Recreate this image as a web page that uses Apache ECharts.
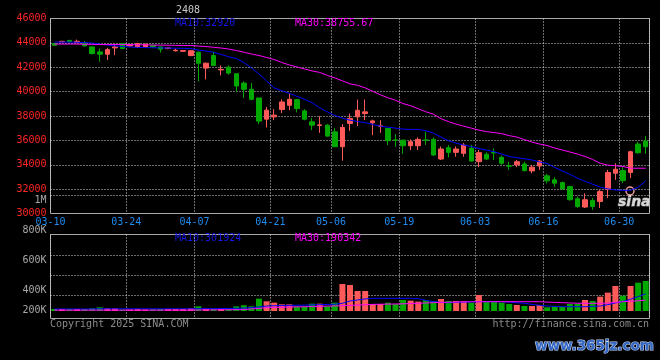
<!DOCTYPE html>
<html>
<head>
<meta charset="utf-8">
<script src="https://cdn.jsdelivr.net/npm/echarts@6/dist/echarts.min.js"></script>
<style>html,body{margin:0;padding:0;background:#000;}#c{width:660px;height:360px;}</style>
</head>
<body>
<div id="c"></div>
<script>
const categories = ['03-10','03-11','03-12','03-13','03-14','03-17','03-18','03-19','03-20','03-21','03-24','03-25','03-26','03-27','03-28','03-31',
'04-01','04-02','04-03','04-07','04-08','04-09','04-10','04-11','04-14','04-15','04-16','04-17','04-18','04-21','04-22','04-23','04-24','04-25','04-28','04-29','04-30',
'05-06','05-07','05-08','05-09','05-12','05-13','05-14','05-15','05-16','05-19','05-20','05-21','05-22','05-23','05-26','05-27','05-28','05-29','05-30',
'06-03','06-04','06-05','06-06','06-09','06-10','06-11','06-12','06-13','06-16','06-17','06-18','06-19','06-20','06-23','06-24','06-25','06-26','06-27','06-30',
'07-01','07-02','07-03'];
const shownDates = ['03-10','03-24','04-07','04-21','05-06','05-19','06-03','06-16','06-30'];
const priceMin = 30000, priceMax = 46000, priceStep = 2000;
const volTickLabels = ['200K','','400K','','','600K','','','800K','','','1M'];

const openP = [43940,44080,44200,44020,44020,43670,43260,43070,43590,43940,43750,43670,43670,43800,43670,43530,43350,43310,42960,43230,41930,42960,41780,42010,41470,40700,40190,39480,37740,37930,38530,38880,39340,38420,37520,37230,37250,36700,35480,37390,37930,38200,37440,37150,36980,36040,36020,35560,35560,36040,36080,34470,35400,35020,34940,35350,34250,34860,35010,34610,33920,33990,34060,33490,33900,33090,32760,32540,32210,31210,30530,31070,30990,32000,33300,33520,33360,35700,35940];
const closeP = [43800,44130,44080,44130,43750,43130,43070,43450,43670,43530,43860,43940,43890,43670,43480,43590,43400,43370,43360,42330,42330,42150,41820,41520,40460,40190,39370,37580,38480,38070,39150,39370,38610,37740,37250,37270,36350,35480,37060,37800,38470,38340,37600,37190,35970,36000,35560,35890,36080,36000,34800,35290,35020,35290,35620,34310,34990,34470,34970,34120,33880,34250,33520,33800,34310,32680,32490,32030,31130,30580,31130,30580,31800,33360,33630,32700,35070,34990,35480];
const lowP = [43780,44050,44050,44000,43750,43050,42450,42600,43000,43500,43700,43600,43650,43600,43200,43480,43300,43250,42900,40840,41000,42100,41330,41390,39970,39480,39290,37330,37060,37660,38230,38470,38300,37650,36840,36620,36300,35480,34330,36780,37170,37660,36430,36620,35620,35480,34890,35210,35210,35620,34720,34390,34600,34660,34660,34250,33800,34390,34390,33990,33580,33800,33440,33300,33580,32460,32200,31950,31070,30450,30450,30310,30450,31270,32760,32490,32900,34900,34900];
const highP = [44000,44150,44250,44270,44150,43700,43530,43600,43950,44000,43900,44000,43920,43850,43700,43620,43540,43420,43420,43300,42390,43290,42150,42150,41470,40840,40700,39480,38740,38560,39370,39840,39400,38560,37840,37980,37330,37030,37330,38200,39350,39350,37700,37660,36980,36510,36020,36080,36240,36700,36240,35500,35620,35500,35780,35620,35210,35020,35350,34750,34250,34390,34250,33990,34390,33250,32980,32620,32270,31400,31670,31270,31940,33580,34120,33800,35150,35900,36350];
const ma10 = [44065,44065,44065,44049,44024,43984,43902,43820,43755,43698,43657,43633,43616,43600,43592,43576,43559,43551,43535,43412,43331,43233,43045,42857,42718,42392,41943,41453,40882,40310,40065,39861,39616,39371,39086,38678,38335,38041,37820,37657,37551,37453,37306,37168,37086,37004,36923,36898,36898,36800,36596,36270,35968,35780,35617,35494,35331,35208,35070,34882,34678,34580,34490,34392,34229,34106,33780,33494,33209,32898,32637,32408,32163,32025,31927,31902,31902,32147,32678];
const ma30 = [43902,43902,43902,43902,43886,43878,43861,43861,43861,43861,43861,43845,43837,43820,43820,43804,43796,43780,43780,43739,43698,43641,43576,43494,43371,43233,43086,42963,42800,42637,42392,42188,42024,41861,41698,41576,41331,41127,40882,40637,40518,40310,40024,39739,39494,39290,39020,38841,38596,38351,38147,37780,37535,37331,37168,37004,36841,36719,36637,36555,36392,36270,36066,35862,35698,35576,35372,35208,35045,34882,34678,34433,34123,33968,33919,33861,33715,33715,33715];
const volume = [35000,35000,35000,35000,35000,47000,64000,47000,47000,26000,26000,35000,26000,30000,35000,35000,35000,35000,47000,
81000,41000,41000,41000,41000,81000,99000,81000,215000,169000,145000,116000,116000,81000,81000,128000,128000,81000,145000,
470000,453000,349000,349000,122000,122000,145000,122000,192000,180000,163000,192000,174000,209000,174000,174000,174000,145000,279000,174000,174000,145000,122000,105000,87000,87000,105000,64000,87000,76000,122000,122000,192000,174000,250000,320000,436000,267000,436000,494000,523000];
const volMa10 = [35000,35000,35000,35000,35000,35000,38000,38000,38000,38000,38000,38000,38000,38000,38000,38000,38000,38000,38000,
40000,40000,40000,42000,44000,47000,52000,58000,72000,87000,92000,96000,98000,100000,103000,106000,110000,114000,118000,134000,
174000,192000,210000,221000,221000,221000,221000,221000,221000,215000,185000,165000,150000,145000,150000,155000,160000,162000,162000,162000,
162000,155000,145000,134000,115000,100000,87000,80000,75000,75000,75000,75000,80000,87000,110000,140000,165000,205000,250000,300000];
const volMa30 = [15000,15000,15000,15000,15000,15000,15000,15000,15000,15000,15000,15000,15000,15000,15000,15000,15000,15000,15000,
18000,19000,20000,21000,22000,23000,25000,35000,45000,58000,62000,66000,70000,72000,74000,76000,80000,85000,88000,92000,
98000,103000,108000,115000,118000,120000,122000,125000,130000,135000,140000,145000,150000,153000,156000,159000,161000,162000,162000,162000,
162000,162000,162000,162000,162000,162000,155000,150000,145000,140000,135000,134000,134000,134000,138000,150000,162000,170000,178000,190000];

const UP = '#ff5a5a', DOWN = '#00a800';
const FONT = 'DejaVu Sans Mono';
const GRIDC = '#d8d8d8';
const DOTS = [1, 2];
const plotLeft = 50.5, plotWidth = 599;
const bandW = plotWidth / categories.length;
const showDateIdx = (i) => shownDates.indexOf(categories[i]) >= 0;

const chart = echarts.init(document.getElementById('c'), null, {renderer: 'canvas'});
const kData = categories.map((_, i) => [openP[i], closeP[i], lowP[i], highP[i]]);
const volData = volume.map((v, i) => ({value: v, itemStyle: {color: closeP[i] >= openP[i] ? UP : DOWN}}));

const txt = (x, y, text, color, align) => ({
  type: 'text', x: x, y: y, silent: true,
  style: {text: text, fill: color, font: '10px "' + FONT + '"', textAlign: align || 'left', textVerticalAlign: 'middle'}
});

chart.setOption({
  animation: false,
  backgroundColor: '#000',
  grid: [
    {left: plotLeft, width: plotWidth, top: 18.5, height: 195, show: true, borderColor: '#a8a8a8', borderWidth: 1, backgroundColor: 'transparent'},
    {left: plotLeft, width: plotWidth, top: 234.5, height: 84, show: true, borderColor: '#a8a8a8', borderWidth: 1, backgroundColor: 'transparent'},
    {left: plotLeft, width: plotWidth, top: 195.5, height: 120, show: false}
  ],
  xAxis: [
    {gridIndex: 0, type: 'category', data: categories, boundaryGap: true,
     axisLine: {show: false}, axisTick: {show: false},
     axisLabel: {interval: (i) => showDateIdx(i), color: '#1e8cf0', fontFamily: FONT, fontSize: 10, margin: 4, padding: [0, bandW, 0, 0]},
     splitLine: {show: true, interval: (i) => showDateIdx(i), lineStyle: {color: GRIDC, width: 1, type: DOTS}}},
    {gridIndex: 1, type: 'category', data: categories, boundaryGap: true,
     axisLine: {show: false}, axisTick: {show: false}, axisLabel: {show: false},
     splitLine: {show: true, interval: (i) => showDateIdx(i), lineStyle: {color: GRIDC, width: 1, type: DOTS}}},
    {gridIndex: 2, type: 'value', show: false}
  ],
  yAxis: [
    {gridIndex: 0, type: 'value', min: priceMin, max: priceMax, interval: priceStep,
     axisLine: {show: false}, axisTick: {show: false},
     axisLabel: {color: '#ff2626', fontFamily: FONT, fontSize: 10, margin: 4, padding: [0, 0, 4, 0], formatter: (v) => String(v)},
     splitLine: {show: true, showMinLine: false, showMaxLine: false, lineStyle: {color: GRIDC, width: 1, type: DOTS}}},
    {gridIndex: 1, type: 'value', min: -131000, max: 1334000, show: false, splitLine: {show: false}},
    {gridIndex: 2, type: 'category', data: volTickLabels, boundaryGap: true,
     axisLine: {show: false}, axisTick: {show: false},
     axisLabel: {interval: 0, color: '#a8a8a8', fontFamily: FONT, fontSize: 10, margin: 4},
     splitLine: {show: true, interval: (i) => i === 2 || i === 4 || i === 6, lineStyle: {color: GRIDC, width: 1, type: DOTS}}}
  ],
  series: [
    {type: 'candlestick', xAxisIndex: 0, yAxisIndex: 0, data: kData, barWidth: 5,
     itemStyle: {color: UP, color0: DOWN, borderColor: UP, borderColor0: DOWN, borderWidth: 1}},
    {type: 'line', xAxisIndex: 0, yAxisIndex: 0, data: ma10, symbol: 'none', lineStyle: {color: '#0000ff', width: 1}, z: 5},
    {type: 'line', xAxisIndex: 0, yAxisIndex: 0, data: ma30, symbol: 'none', lineStyle: {color: '#ff00ff', width: 1}, z: 5},
    {type: 'bar', xAxisIndex: 1, yAxisIndex: 1, data: volData, barWidth: 6},
    {type: 'line', xAxisIndex: 1, yAxisIndex: 1, data: volMa10, symbol: 'none', lineStyle: {color: '#0000ff', width: 1}, z: 5},
    {type: 'line', xAxisIndex: 1, yAxisIndex: 1, data: volMa30, symbol: 'none', lineStyle: {color: '#ff00ff', width: 1}, z: 5}
  ],
  graphic: [
    txt(176, 10, '2408', '#c8c8c8'),
    txt(175, 23.5, 'MA10:32920', '#1616e8'),
    txt(295, 23.5, 'MA30:38755.67', '#ff00ff'),
    txt(175, 238.5, 'MA10:301924', '#1616e8'),
    txt(295, 238.5, 'MA30:190342', '#ff00ff'),
    txt(50, 324, 'Copyright 2025 SINA.COM', '#8a8a8a'),
    txt(649, 324, 'http://finance.sina.com.cn', '#8a8a8a', 'right'),
    {type: 'text', x: 618, y: 202, silent: true,
     style: {text: 'sina', fill: '#d8d8d8', stroke: '#777', lineWidth: 1, font: 'italic bold 14px "DejaVu Sans"', textVerticalAlign: 'middle'}},
    {type: 'circle', shape: {cx: 630, cy: 191, r: 4}, silent: true, style: {fill: 'none', stroke: '#f29a9a', lineWidth: 1.5}},
    {type: 'text', x: 535, y: 346, silent: true,
     style: {text: 'www.365jz.com', fill: '#3468c4', stroke: '#c8d6f2', lineWidth: 1.2, font: 'bold 13.5px "DejaVu Sans"', textVerticalAlign: 'middle'}}
  ]
});
</script>
</body>
</html>
